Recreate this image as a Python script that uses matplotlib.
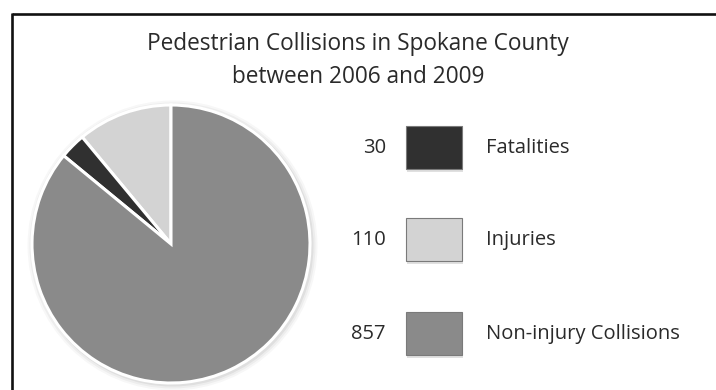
import matplotlib
matplotlib.use("Agg")
import matplotlib.pyplot as plt
from matplotlib.patches import Rectangle, Circle

categories = ["Fatalities", "Injuries", "Non-injury Collisions"]
values = [30, 110, 857]
value_labels = ["30", "110", "857"]
colors = ["#303030", "#d3d3d3", "#8a8a8a"]
title_lines = ["Pedestrian Collisions in Spokane County", "between 2006 and 2009"]

W, H = 716, 390
fig = plt.figure(figsize=(W / 100, H / 100), dpi=100)
ax = fig.add_axes([0, 0, 1, 1])
ax.set_xlim(0, W)
ax.set_ylim(0, H)
ax.set_aspect("equal")
ax.axis("off")

def Y(y):
    return H - y

font = "Open Sans"
txt_col = "#2a2a2a"

# frame lines (top and left only)
ax.plot([12, W], [Y(14), Y(14)], color="#111111", lw=1.9, solid_capstyle="butt")
ax.plot([12, 12], [Y(13), Y(H)], color="#111111", lw=1.9, solid_capstyle="butt")

# title
ax.text(358, Y(44), title_lines[0], ha="center", va="center", fontsize=16.3,
        family=font, color=txt_col, fontweight="medium")
ax.text(358, Y(77), title_lines[1], ha="center", va="center", fontsize=16.3,
        family=font, color=txt_col, fontweight="medium")

# pie with soft shadow
cx, cy, r = 171, Y(244), 139
for k, a in [(6, 0.03), (4, 0.04), (2, 0.06)]:
    ax.add_patch(Circle((cx + 1.5, cy - 1.5), r + k, color="#000000", alpha=a, lw=0))
order = [1, 0, 2]
ax.pie([values[i] for i in order], colors=[colors[i] for i in order],
       startangle=90, counterclock=True, center=(cx, cy), radius=r,
       wedgeprops=dict(edgecolor="white", linewidth=2.2), frame=True)
ax.set_xlim(0, W)
ax.set_ylim(0, H)
ax.axis("off")

# legend
row_y = [148, 240, 334]
for lab, vl, col, yy in zip(categories, value_labels, colors, row_y):
    ax.add_patch(Rectangle((407, Y(yy) - 22 - 1.5), 56, 43, color="#000000", alpha=0.12, lw=0))
    ax.add_patch(Rectangle((406, Y(yy) - 21), 56, 43, facecolor=col,
                           edgecolor="#7a7a7a", lw=0.8))
    ax.text(386, Y(yy), vl, ha="right", va="center", fontsize=14.5,
            family=font, color=txt_col, fontweight="medium")
    ax.text(486, Y(yy), lab, ha="left", va="center", fontsize=14.5,
            family=font, color=txt_col, fontweight="medium")

fig.savefig("out.png", dpi=100)
